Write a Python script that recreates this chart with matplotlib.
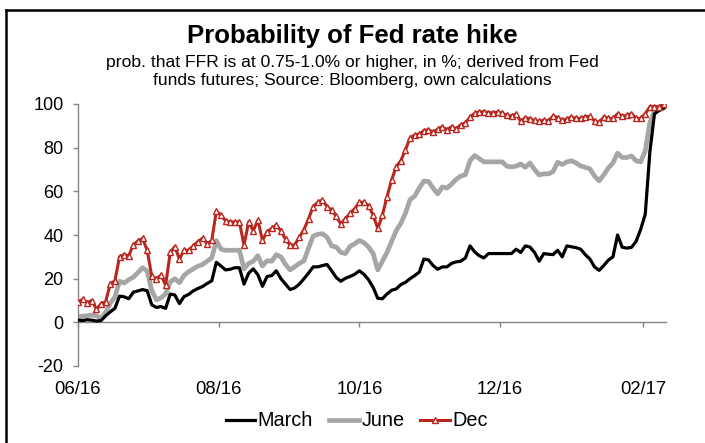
import matplotlib
matplotlib.use("Agg")
import matplotlib.pyplot as plt
from matplotlib.lines import Line2D
import pandas as pd

plt.rcParams['font.family'] = ['Liberation Sans', 'DejaVu Sans']
plt.rcParams['axes.unicode_minus'] = False

# ---- data (one value every 2 days from 2016-06-01) ----
start_date = "2016-06-01"
step = "2D"

march = [1, 0.8, 1.2, 1, 0.6, 0.8, 3, 4.8, 6.4, 12, 11.7, 10.8, 13.8, 14.4, 15, 14.5,
         8, 6.8, 7.2, 6.4, 13, 12.5, 8.6, 11.8, 12.8, 14.4, 15.5, 16.4, 17.8, 19, 27.5, 25.8,
         24, 24.3, 25, 25, 17.5, 22.5, 24.5, 21.8, 16.5, 21, 21.4, 23.6, 20, 17.5, 15, 15.8,
         17.5, 20, 22.6, 25.4, 25.4, 26, 26.5, 23.6, 20.5, 18.8, 20.2, 21, 22, 23.6, 22, 19.5,
         16, 11, 10.8, 13, 14.7, 15.3, 17.3, 18.3, 20, 21.4, 23, 29, 28.6, 26, 24.3, 25.4,
         25.4, 27, 27.7, 28, 29.5, 35, 32.3, 30.5, 29.5, 31.5, 31.5, 31.5, 31.5, 31.5, 31.5, 33.5,
         32, 35, 34.5, 32, 28, 31.5, 31.2, 31, 33, 30, 35, 34.6, 34.2, 33.5, 31, 29,
         25.4, 23.8, 26, 28.5, 30, 40, 34.4, 34, 34.3, 37, 42.5, 49.5, 78, 95.5, 97, 98]

june = [2.4, 2.8, 3, 3.4, 3, 2, 4.5, 8.8, 11.6, 18.8, 18, 19.5, 20.7, 22.8, 25, 23.5,
        14.5, 10.3, 11.2, 13, 18.5, 20, 18.2, 21.5, 23.2, 24.5, 25.7, 26.5, 28, 29.5, 37.4, 33.5,
        33, 33, 33, 33, 24.5, 27, 28, 30.5, 25.8, 28.2, 28, 31, 30, 26.5, 24, 25.5,
        27, 28.2, 34, 39.5, 40.3, 40.6, 39, 35, 34.5, 32, 31.5, 34.8, 36, 37.5, 36.5, 34.5,
        31.5, 24, 28, 32, 37, 42, 45.3, 50, 56.2, 57.8, 61.5, 64.7, 64.5, 61.5, 58.8, 62,
        61.5, 63.3, 65.5, 67, 67.6, 74, 76.4, 75, 73.5, 73.5, 73.5, 73.5, 73.5, 71.5, 71.2, 71.5,
        72.5, 71, 73, 70, 67.5, 68, 68, 69, 73.3, 72.3, 73.5, 74, 73, 71.6, 71, 70.3,
        67, 64.8, 67.5, 70.7, 73, 77.5, 75.5, 75.5, 76.2, 74, 73.5, 78.5, 91.5, 96.8, 97.5, 98.6]

dec = [9.3, 10.5, 9, 10, 6, 8.5, 9.5, 17.7, 19, 30, 31, 30.5, 35.5, 37.3, 38.4, 33,
       21, 20, 21.6, 17, 32, 34.7, 29, 33, 33, 35, 37, 38.5, 36, 37.5, 51, 49,
       46.5, 46, 46, 46, 35.3, 46, 42, 46.8, 37.5, 41.5, 43, 44.5, 42, 38, 35.3, 35.5,
       39, 42.5, 47.5, 53, 55, 56, 53, 51.5, 48.5, 45, 47.5, 50, 52, 55, 55, 53.5,
       49, 43, 49, 57.5, 65.2, 71.3, 74, 79, 84.5, 85.8, 86.2, 87.8, 88.2, 87, 88.5, 89.6,
       88.2, 89.6, 88.7, 90.5, 91.3, 94, 95.7, 96.3, 96.5, 96, 96, 96.3, 95.7, 94.8, 94.5, 95.5,
       92, 93.8, 93.2, 92.5, 92, 92.6, 92.2, 94.5, 93.8, 92.5, 93.2, 94, 93.4, 93.4, 94.2, 94.3,
       92.2, 91.6, 94, 93.4, 93.4, 95.5, 94.3, 94.8, 95.6, 93.5, 93.4, 95.5, 98.8, 98.8, 98.8, 100]

tick_dates = ["2016-06-01", "2016-08-01", "2016-10-01", "2016-12-01", "2017-02-01"]
tick_labels = ["06/16", "08/16", "10/16", "12/16", "02/17"]
y_ticks = [-20, 0, 20, 40, 60, 80, 100]
series_names = ["March", "June", "Dec"]

title = "Probability of Fed rate hike"
subtitle_1 = "prob. that FFR is at 0.75-1.0% or higher, in %; derived from Fed"
subtitle_2 = "funds futures; Source: Bloomberg, own calculations"

# ---- figure ----
W, H = 705, 443
fig = plt.figure(figsize=(W / 100, H / 100), dpi=100)
ax = fig.add_axes([78 / W, 1 - 366 / H, (666 - 78) / W, (366 - 104) / H])

dates = pd.date_range(start_date, periods=len(march), freq=step)

ax.plot(dates, march, color="black", lw=2.3, label=series_names[0], zorder=3,
        solid_joinstyle="round")
ax.plot(dates, june, color="#A6A6A6", lw=3.4, label=series_names[1], zorder=2,
        solid_joinstyle="round")
ax.plot(dates, dec, color="#B8261E", lw=2.2, marker="^", markersize=5.0,
        markerfacecolor="white", markeredgecolor="#B8261E", markeredgewidth=1.0,
        label=series_names[2], zorder=4)

ax.set_ylim(-20, 100)
ax.set_yticks(y_ticks)
ax.set_xlim(pd.Timestamp(start_date), pd.Timestamp("2017-02-11"))
ax.set_xticks(pd.to_datetime(tick_dates))
ax.set_xticklabels(tick_labels)

for s in ["top", "right"]:
    ax.spines[s].set_visible(False)
ax.spines["left"].set_color("#868686")
ax.spines["left"].set_linewidth(1.0)
ax.spines["bottom"].set_position(("data", 0))
ax.spines["bottom"].set_color("#868686")
ax.spines["bottom"].set_linewidth(1.0)

ax.tick_params(axis="y", direction="out", length=3.5, width=1.0, color="#868686",
               labelsize=13, pad=7, labelcolor="black")
ax.tick_params(axis="x", direction="out", length=3.5, width=1.0, color="#868686",
               labelsize=13.3, pad=38.5, labelcolor="black")

fig.text(0.5, 1 - 36 / H, title, ha="center", va="center", fontsize=18.5,
         fontweight="bold")
fig.text(0.5, 1 - 62 / H, subtitle_1, ha="center", va="center", fontsize=12.6)
fig.text(0.5, 1 - 81 / H, subtitle_2, ha="center", va="center", fontsize=12.6)

leg = fig.legend(loc="center", bbox_to_anchor=(0.506, 1 - 421 / H), ncol=3,
                 frameon=False, fontsize=14.3, handlelength=1.5,
                 handletextpad=0.12, columnspacing=0.8, numpoints=1,
                 borderpad=0.1)

# figure frame (top and left edges visible)
fig.add_artist(Line2D([6 / W, 6 / W], [0, 1 - 10 / H], color="black", lw=1.8,
                      transform=fig.transFigure))
fig.add_artist(Line2D([6 / W, 1], [1 - 10 / H, 1 - 10 / H], color="black", lw=1.8,
                      transform=fig.transFigure))

fig.savefig("out.png", dpi=100)
